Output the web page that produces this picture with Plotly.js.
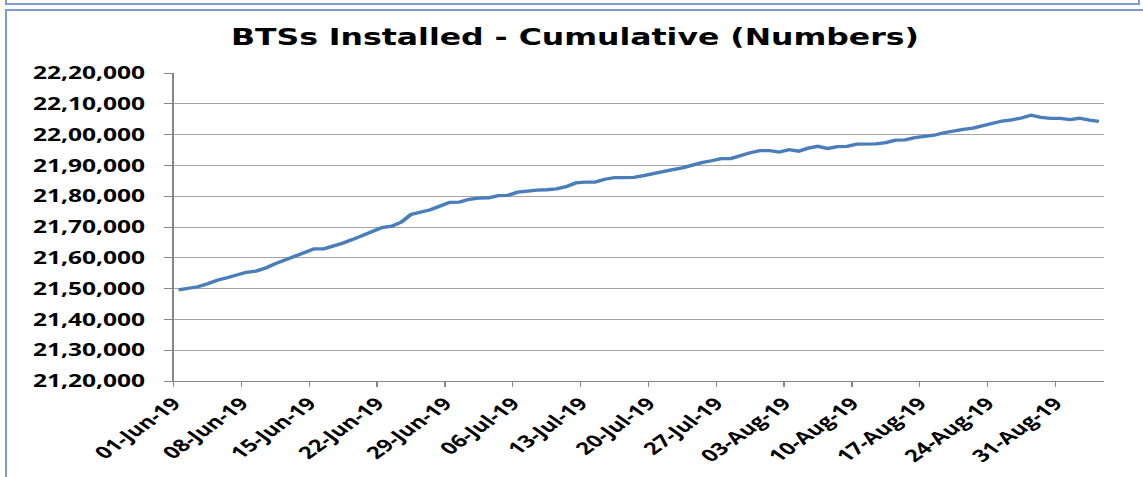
<!DOCTYPE html>
<html>
<head>
<meta charset="utf-8">
<script src="https://cdn.plot.ly/plotly-3.0.1.min.js"></script>
<style>
  html, body { margin:0; padding:0; background:#ffffff; width:1143px; height:477px; overflow:hidden; }
  #wrap { position:absolute; left:0; top:0; width:816px; height:477px; transform:scaleX(1.40074); transform-origin:0 0; }
  #chart { width:816px; height:477px; }
  .frame { position:absolute; border:2px solid #7C9CD2; pointer-events:none; box-sizing:border-box; }
</style>
</head>
<body>
<div id="wrap"><div id="chart"></div></div>
<div class="frame" style="left:5px; top:-20px; width:1135px; height:25px;"></div>
<div class="frame" style="left:5px; top:9px; width:1200px; height:600px;"></div>
<script>
const chartTitle = "BTSs Installed - Cumulative (Numbers)";

const dates = [
  "2019-06-01","2019-06-02","2019-06-03","2019-06-04","2019-06-05","2019-06-06","2019-06-07","2019-06-08",
  "2019-06-09","2019-06-10","2019-06-11","2019-06-12","2019-06-13","2019-06-14","2019-06-15","2019-06-16",
  "2019-06-17","2019-06-18","2019-06-19","2019-06-20","2019-06-21","2019-06-22","2019-06-23","2019-06-24",
  "2019-06-25","2019-06-26","2019-06-27","2019-06-28","2019-06-29","2019-06-30","2019-07-01","2019-07-02",
  "2019-07-03","2019-07-04","2019-07-05","2019-07-06","2019-07-07","2019-07-08","2019-07-09","2019-07-10",
  "2019-07-11","2019-07-12","2019-07-13","2019-07-14","2019-07-15","2019-07-16","2019-07-17","2019-07-18",
  "2019-07-19","2019-07-20","2019-07-21","2019-07-22","2019-07-23","2019-07-24","2019-07-25","2019-07-26",
  "2019-07-27","2019-07-28","2019-07-29","2019-07-30","2019-07-31","2019-08-01","2019-08-02","2019-08-03",
  "2019-08-04","2019-08-05","2019-08-06","2019-08-07","2019-08-08","2019-08-09","2019-08-10","2019-08-11",
  "2019-08-12","2019-08-13","2019-08-14","2019-08-15","2019-08-16","2019-08-17","2019-08-18","2019-08-19",
  "2019-08-20","2019-08-21","2019-08-22","2019-08-23","2019-08-24","2019-08-25","2019-08-26","2019-08-27",
  "2019-08-28","2019-08-29","2019-08-30","2019-08-31","2019-09-01","2019-09-02","2019-09-03","2019-09-04"
];

const btsInstalled = [
  2149600,2150000,2150600,2151600,2152700,2153500,2154300,2155300,
  2155700,2156700,2158100,2159300,2160500,2162000,2162900,2162900,
  2163800,2164800,2166000,2167300,2168800,2169800,2170300,2171600,
  2174100,2174900,2175600,2176800,2178000,2178100,2179000,2179400,
  2179500,2180200,2180300,2181300,2181700,2182000,2182100,2182400,
  2183100,2184300,2184600,2184600,2185500,2186000,2186000,2186100,
  2186700,2187400,2187900,2188600,2189200,2190100,2190900,2191500,
  2192200,2192200,2193300,2194100,2194800,2194800,2194300,2195100,
  2194600,2195600,2196200,2195500,2196100,2196200,2196900,2196900,
  2197000,2197400,2198200,2198300,2199000,2199400,2199800,2200600,
  2201200,2201700,2202100,2202800,2203700,2204400,2204800,2205400,
  2206300,2205600,2205300,2205300,2204900,2205300,2204700,2204300
];

const yTickVals = [2120000,2130000,2140000,2150000,2160000,2170000,2180000,2190000,2200000,2210000,2220000];
const yTickText = ["21,20,000","21,30,000","21,40,000","21,50,000","21,60,000","21,70,000","21,80,000","21,90,000","22,00,000","22,10,000","22,20,000"];

const S = 1143 / 816;

const trace = {
  type: "scatter",
  mode: "lines",
  x: dates,
  y: btsInstalled,
  xperiod: 86400000,
  xperiodalignment: "middle",
  line: { color: "#4A7EBB", width: 3.3 },
  hoverinfo: "x+y"
};

const layout = {
  width: 816,
  height: 477,
  paper_bgcolor: "#ffffff",
  plot_bgcolor: "#ffffff",
  showlegend: false,
  margin: { l: 174 / S, r: 39 / S, t: 72.7, b: 477 - 381.5, pad: 0 },
  title: {
    text: "<b>" + chartTitle + "</b>",
    font: { family: "DejaVu Sans", size: 22.5, color: "#000000" },
    xref: "container", x: 0.503, xanchor: "center",
    yref: "container", y: 1 - 37 / 477, yanchor: "middle"
  },
  xaxis: {
    type: "date",
    range: ["2019-06-01", "2019-09-05"],
    tick0: "2019-06-01",
    dtick: 7 * 86400000,
    tickformat: "%d-%b-%y",
    tickangle: -45,
    ticks: "outside",
    ticklen: 5,
    tickcolor: "#868686",
    showgrid: false,
    showline: true,
    linecolor: "#868686",
    linewidth: 1,
    zeroline: false,
    tickfont: { family: "Open Sans", size: 17, color: "#000000", weight: "bold" }
  },
  yaxis: {
    range: [2120000, 2220000],
    tickmode: "array",
    tickvals: yTickVals,
    ticktext: yTickText,
    ticks: "outside",
    ticklen: 6,
    tickcolor: "#868686",
    ticklabelstandoff: 10,
    showgrid: true,
    gridcolor: "#A6A6A6",
    gridwidth: 1,
    showline: true,
    linecolor: "#868686",
    linewidth: 1,
    zeroline: false,
    tickfont: { family: "Open Sans", size: 17.5, color: "#000000", weight: "bold" }
  }
};

Plotly.newPlot("chart", [trace], layout, { displayModeBar: false, staticPlot: true });
</script>
</body>
</html>
